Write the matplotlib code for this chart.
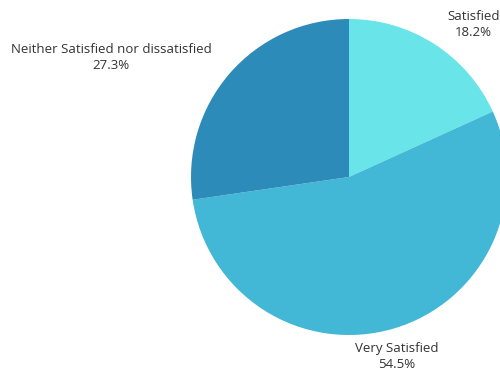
import numpy as np
import matplotlib
matplotlib.use('Agg')
import matplotlib.pyplot as plt

# satisfaction survey shares
labels = ['Satisfied', 'Very Satisfied', 'Neither Satisfied nor dissatisfied']
values = [18.2, 54.5, 27.3]
colors = ['#69e4e8', '#42b7d6', '#2d8bba']

plt.rcParams['font.family'] = ['Open Sans', 'DejaVu Sans']

fig = plt.figure(figsize=(5, 3.7), dpi=100)
ax = fig.add_axes([191/500, 35/370, 316/500, 316/370])

wedges, _ = ax.pie(values, colors=colors, startangle=90, counterclock=False,
                   radius=1, wedgeprops=dict(linewidth=0))
ax.set_xlim(-1, 1)
ax.set_ylim(-1, 1)
ax.set_aspect('equal')
ax.axis('off')

# small nudges (points) so labels sit clear of the rim
nudge = [(4, -4), (0, -1), (-6, -5)]

# put each label just outside its wedge, aligned away from the pie
for w, lab, v, d in zip(wedges, labels, values, nudge):
    mid = np.deg2rad((w.theta1 + w.theta2) / 2)
    x, y = 1.08 * np.cos(mid), 1.08 * np.sin(mid)
    if abs(np.cos(mid)) < 0.4:
        ha = 'center'
    else:
        ha = 'left' if x > 0 else 'right'
    va = 'bottom' if y > 0 else 'top'
    ax.annotate(f'{lab}\n{v}%', (x, y), xytext=d, textcoords='offset points',
                ha=ha, va=va, multialignment='center', fontsize=9.5,
                color='#333333', linespacing=1.3, annotation_clip=False)

fig.savefig('out.png', dpi=100)
